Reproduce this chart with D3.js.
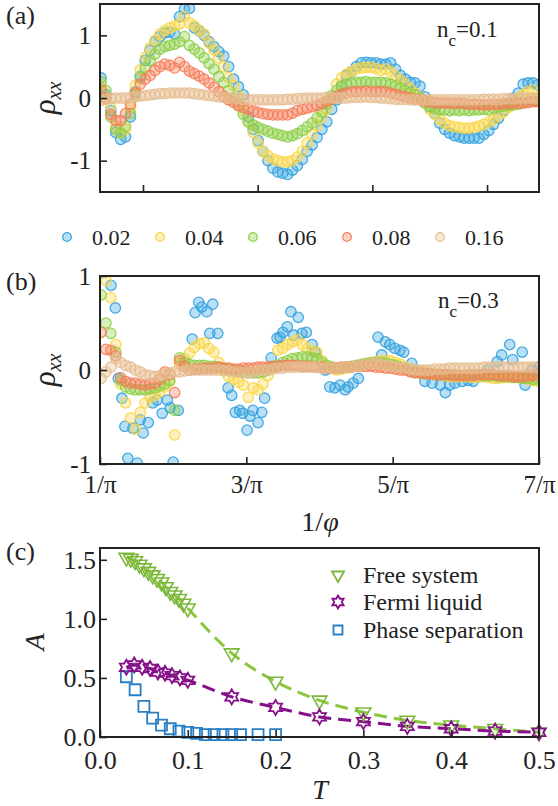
<!DOCTYPE html>
<html>
<head>
<meta charset="utf-8">
<script src="https://cdn.jsdelivr.net/npm/d3@7"></script>
</head>
<body style="margin:0;background:#fff">
<div id="chart"></div>
<script>
// ---- data ----
const fillings = ['0.02', '0.04', '0.06', '0.08', '0.16']
const colors = ['#35a2e0', '#f9d648', '#8dcf48', '#f57d59', '#e6bd90']

// panel (a): n_c = 0.1, samples on an even 1/phi grid
const blueA = [0.32,0.05,-0.2,-0.55,-0.66,-0.62,-0.3,0.1,0.35,0.6,
  0.76,0.9,0.98,1.04,1.05,1.02,1.3,1.42,1.43,1.12,
  1.07,1.0,0.9,0.82,0.74,0.67,0.5,0.3,0.18,0.05,
  -0.3,-0.5,-0.68,-0.85,-1.0,-1.12,-1.18,-1.2,-1.22,-1.15,
  -1.08,-0.98,-0.85,-0.75,-0.63,-0.5,-0.38,-0.18,-0.03,0.2,
  0.36,0.42,0.5,0.56,0.57,0.56,0.56,0.54,0.54,0.56,
  0.46,0.36,0.3,0.25,0.24,0.19,0.02,-0.14,-0.25,-0.4,
  -0.5,-0.56,-0.6,-0.62,-0.64,-0.64,-0.64,-0.64,-0.58,-0.52,
  -0.42,-0.32,-0.2,-0.1,0.0,0.08,0.22,0.24,0.24,0.21]
const yellowA = [0.2,0.0,-0.15,-0.45,-0.55,-0.5,-0.15,0.2,0.45,0.65,
  0.8,0.92,1.02,1.08,1.12,1.15,1.18,1.3,1.2,1.15,
  1.08,1.02,0.88,0.77,0.64,0.5,0.33,0.2,0.05,-0.2,
  -0.38,-0.55,-0.72,-0.85,-0.92,-0.97,-1.0,-1.02,-1.02,-1.0,
  -0.94,-0.85,-0.72,-0.58,-0.44,-0.3,-0.18,0.0,0.22,0.32,
  0.38,0.42,0.46,0.48,0.49,0.49,0.47,0.44,0.46,0.42,
  0.35,0.28,0.22,0.15,0.08,0.0,-0.08,-0.18,-0.26,-0.34,
  -0.4,-0.44,-0.46,-0.47,-0.48,-0.48,-0.47,-0.45,-0.42,-0.38,
  -0.34,-0.28,-0.22,-0.15,-0.07,0.0,0.06,0.1,0.13,0.02]
const greenA = [0.26,0.12,-0.3,-0.5,-0.56,-0.45,-0.25,0.05,0.32,0.48,
  0.6,0.7,0.78,0.82,0.84,0.86,0.9,0.98,0.84,0.78,
  0.72,0.64,0.55,0.46,0.34,0.25,0.12,0.0,-0.12,-0.26,
  -0.38,-0.43,-0.47,-0.5,-0.53,-0.56,-0.58,-0.6,-0.62,-0.6,
  -0.57,-0.52,-0.46,-0.4,-0.32,-0.22,-0.1,0.04,0.12,0.18,
  0.22,0.24,0.25,0.25,0.26,0.25,0.25,0.25,0.24,0.22,
  0.19,0.16,0.12,0.08,0.05,0.0,-0.08,-0.14,-0.17,-0.19,
  -0.19,-0.2,-0.19,-0.2,-0.19,-0.2,-0.19,-0.19,-0.18,-0.19,
  -0.16,-0.14,-0.13,-0.12,-0.11,-0.1,-0.08,-0.07,-0.05,-0.03]
const redA = [0.13,0.0,-0.26,-0.36,-0.36,-0.25,-0.1,0.08,0.22,0.3,
  0.36,0.44,0.5,0.54,0.52,0.48,0.57,0.5,0.43,0.39,
  0.35,0.3,0.24,0.17,0.1,0.03,-0.03,-0.07,-0.12,-0.15,
  -0.18,-0.21,-0.23,-0.25,-0.26,-0.27,-0.27,-0.27,-0.27,-0.24,
  -0.2,-0.18,-0.16,-0.14,-0.12,-0.09,-0.05,-0.02,0.03,0.06,
  0.08,0.1,0.1,0.1,0.11,0.1,0.1,0.1,0.1,0.08,
  0.06,0.04,0.02,0.0,-0.02,-0.03,-0.05,-0.06,-0.07,-0.08,
  -0.08,-0.08,-0.09,-0.08,-0.09,-0.1,-0.1,-0.1,-0.11,-0.11,
  -0.1,-0.1,-0.09,-0.09,-0.08,-0.08,-0.08,-0.07,-0.06,-0.06]
const tanA = [-0.04,-0.02,-0.01,0.0,0.0,0.0,0.01,0.02,0.03,0.04,
  0.05,0.06,0.07,0.07,0.08,0.08,0.08,0.08,0.08,0.07,
  0.06,0.05,0.04,0.03,0.02,0.01,0.0,0.0,-0.01,-0.02,
  -0.02,-0.03,-0.03,-0.03,-0.03,-0.03,-0.03,-0.03,-0.02,-0.02,
  -0.01,-0.01,0.0,0.0,0.0,0.0,0.01,0.0,0.0,0.0,
  0.0,0.01,0.01,0.01,0.02,0.01,0.01,0.0,0.0,-0.01,
  -0.02,-0.02,-0.02,-0.03,-0.03,-0.03,-0.03,-0.03,-0.03,-0.03,
  -0.03,-0.03,-0.03,-0.03,-0.03,-0.03,-0.03,-0.03,-0.02,-0.02,
  -0.02,-0.02,-0.01,-0.01,-0.01,0.0,0.0,0.0,0.0,0.0]

// panel (b): n_c = 0.3 (x in units of 1/pi)
const blueBk = [1.15,1.21,1.25,1.30,1.34,1.38,1.45,1.51,1.55,1.59,1.66,1.72,1.78,1.85,1.92,1.96,2.00,2.07,
  2.26,2.30,2.35,2.39,2.46,2.50,2.54,2.61,2.75,2.80,2.85,2.91,2.95,3.01,3.05,3.09,3.16,3.21,3.25,
  3.34,3.42,3.46,3.50,3.56,3.61,3.65,3.71,3.76,3.82,3.90,3.94,4.08,4.14,4.21,4.28,4.35,4.39,4.46,4.53,
  4.80,4.85,4.90,4.96,5.03,5.10,5.15,5.26,5.44,5.54,5.65,5.72,5.78,5.85,5.95,6.03,6.10,6.19,6.30,6.43,6.49,6.60,6.64,6.77,6.81,6.90,6.99]
const blueB = [0.9,0.66,-0.09,-0.3,-0.6,-0.94,-0.62,-0.99,-0.53,-0.67,-0.56,-0.35,-0.32,-0.46,-0.32,-0.4,-0.98,-0.43,
  0.33,0.61,0.72,0.67,0.62,0.39,0.7,0.39,-0.19,-0.27,-0.45,-0.43,-0.46,-0.64,-0.49,-0.43,-0.56,-0.45,-0.3,
  0.13,0.34,0.35,0.4,0.46,0.62,0.37,0.56,0.39,0.4,0.27,0.19,0.0,-0.18,-0.19,-0.16,-0.21,-0.18,-0.14,-0.09,
  0.35,0.16,0.3,0.27,0.23,0.21,0.19,0.07,-0.12,-0.14,-0.16,-0.24,-0.16,-0.14,-0.12,-0.11,-0.12,-0.07,0.0,0.09,0.16,0.27,0.11,0.19,-0.16,0.0,0.03]
const yellowB = [1.1,0.95,0.77,0.27,-0.15,-0.35,-0.51,-0.63,-0.45,-0.35,
  -0.29,-0.27,-0.23,-0.18,-0.12,-0.69,0.07,0.12,0.18,0.24,
  0.28,0.29,0.23,0.19,0.08,0.0,-0.07,-0.1,-0.13,-0.16,
  -0.29,-0.19,-0.21,-0.15,-0.06,0.03,0.21,0.23,0.27,0.3,
  0.32,0.27,0.23,0.2,0.19,0.1,0.05,0.02,0.0,0.01,
  0.02,0.03,0.04,0.05,0.06,0.08,0.09,0.1,0.1,0.1,
  0.08,0.06,0.03,0.01,0.0,-0.01,-0.02,-0.03,-0.04,-0.05,
  -0.06,-0.07,-0.07,-0.07,-0.07,-0.07,-0.08,-0.07,-0.07,-0.08,
  -0.09,-0.09,-0.08,-0.08,-0.07,-0.08,-0.09,-0.1,-0.11,-0.12]
const greenB = [0.8,0.5,0.39,0.19,-0.11,-0.18,-0.2,-0.21,-0.21,-0.21,
  -0.2,-0.19,-0.17,-0.15,-0.11,-0.43,0.13,0.08,0.06,0.05,
  0.05,0.05,0.04,0.04,0.03,0.02,0.01,0.0,-0.01,-0.02,
  -0.03,-0.03,-0.03,-0.02,0.0,0.03,0.05,0.08,0.1,0.12,
  0.13,0.14,0.14,0.13,0.12,0.08,0.05,0.03,0.02,0.02,
  0.03,0.04,0.05,0.06,0.07,0.08,0.08,0.08,0.07,0.06,
  0.05,0.03,0.01,-0.01,-0.02,-0.03,-0.04,-0.04,-0.05,-0.05,
  -0.05,-0.05,-0.05,-0.06,-0.06,-0.05,-0.05,-0.05,-0.06,-0.06,
  -0.06,-0.07,-0.07,-0.07,-0.08,-0.08,-0.09,-0.09,-0.1,-0.1]
const redB = [0.4,0.22,0.21,0.15,-0.08,-0.12,-0.14,-0.14,-0.15,-0.16,
  -0.15,-0.14,-0.1,-0.02,-0.05,-0.24,0.1,0.04,0.0,0.01,
  0.01,0.02,0.02,0.02,0.03,0.02,0.02,0.01,0.01,0.02,
  0.02,0.02,0.03,0.03,0.03,0.04,0.04,0.05,0.05,0.05,
  0.05,0.04,0.04,0.04,0.03,0.03,0.02,0.02,0.02,0.03,
  0.03,0.03,0.04,0.04,0.04,0.04,0.03,0.03,0.02,0.02,
  0.01,0.0,0.0,-0.02,-0.03,-0.03,-0.04,-0.04,-0.05,-0.05,
  -0.05,-0.05,-0.06,-0.06,-0.06,-0.06,-0.06,-0.05,-0.05,-0.05,
  -0.05,-0.06,-0.06,-0.06,-0.07,-0.07,-0.07,-0.06,-0.06,-0.05]
const tanB = [-0.09,-0.02,0.03,0.12,0.08,0.05,0.03,0.0,-0.02,-0.05,
  -0.06,-0.07,-0.06,-0.04,-0.03,-0.02,-0.02,-0.01,0.0,0.0,
  0.0,0.0,0.0,0.0,0.0,-0.01,-0.01,-0.02,-0.02,-0.03,
  -0.03,-0.02,-0.01,0.0,0.0,0.01,0.02,0.02,0.03,0.03,
  0.03,0.03,0.03,0.03,0.03,0.02,0.02,0.02,0.02,0.02,
  0.03,0.03,0.04,0.05,0.06,0.07,0.07,0.06,0.05,0.04,
  0.03,0.03,0.02,0.01,0.0,0.0,0.0,0.0,0.01,0.01,
  0.01,0.02,0.02,0.02,0.02,0.02,0.02,0.02,0.03,0.03,
  0.03,0.03,0.03,0.03,0.03,0.03,0.03,0.03,0.03,0.03]

// panel (c): amplitude A vs temperature T
const freeT = [0.03,0.035,0.04,0.045,0.05,0.055,0.06,0.065,0.07,0.075,0.08,0.085,0.09,0.095,0.1,0.15,0.2,0.25,0.3,0.35,0.4,0.45,0.5]
const freeA = [1.52,1.51,1.49,1.46,1.43,1.40,1.37,1.34,1.31,1.27,1.23,1.20,1.17,1.13,1.09,0.71,0.47,0.31,0.21,0.14,0.1,0.07,0.04]
const fermiT = [0.03,0.039,0.048,0.057,0.066,0.074,0.082,0.091,0.1,0.15,0.2,0.25,0.3,0.35,0.4,0.45,0.5]
const fermiA = [0.59,0.61,0.59,0.58,0.55,0.54,0.52,0.5,0.48,0.34,0.25,0.17,0.13,0.09,0.07,0.05,0.04]
const phaseT = [0.03,0.04,0.05,0.06,0.07,0.08,0.09,0.1,0.11,0.12,0.13,0.14,0.15,0.16,0.18,0.2]
const phaseA = [0.51,0.4,0.26,0.16,0.1,0.07,0.05,0.04,0.03,0.02,0.02,0.02,0.02,0.02,0.02,0.02]
const legendC = ['Free system', 'Fermi liquid', 'Phase separation']

// even sampling grids of 1/phi for (a) and (b)
const gridA = d3.range(90).map(i => 0.634 + i * 0.0428)
const gridB = d3.range(90).map(i => 1.014 + i * 0.0671)

// ---- chart ----
const FONT = 'Liberation Serif'
const ink = '#222'

const svg = d3.select('#chart').append('svg')
  .attr('width', 558)
  .attr('height', 806)
  .attr('font-family', FONT)
  .style('font-family', `"${FONT}"`)

// every text goes through here so the serif face is set on the element itself
const addText = (parent, size) => parent.append('text')
  .attr('font-family', FONT).style('font-family', `"${FONT}"`)
  .attr('font-size', size).attr('fill', ink)

const L = 100, R = 539
const xA = d3.scaleLinear().domain([0.625, 4.453]).range([L, R])
const yA = d3.scaleLinear().domain([-1.5, 1.5]).range([192, 4])
const xB = d3.scaleLinear().domain([1, 7]).range([L, R])
const yB = d3.scaleLinear().domain([-1, 1]).range([464, 276])
const xC = d3.scaleLinear().domain([0, 0.5]).range([L, R])
const yC = d3.scaleLinear().domain([0, 1.6]).range([737, 548])

function styleAxis(g, size) {
  g.attr('font-family', FONT).style('font-family', `"${FONT}"`)
  g.select('.domain').remove()
  g.selectAll('.tick line').attr('stroke', ink).attr('stroke-width', 1.6)
  g.selectAll('.tick text').attr('font-size', size).attr('fill', ink)
    .attr('font-family', FONT).style('font-family', `"${FONT}"`)
}

function frame(x, y) {
  svg.append('rect')
    .attr('x', x.range()[0]).attr('y', y.range()[1])
    .attr('width', x.range()[1] - x.range()[0])
    .attr('height', y.range()[0] - y.range()[1])
    .attr('fill', 'none').attr('stroke', ink).attr('stroke-width', 2)
}

function clip(id, x, y) {
  svg.append('clipPath').attr('id', id).append('rect')
    .attr('x', x.range()[0]).attr('y', y.range()[1])
    .attr('width', x.range()[1] - x.range()[0])
    .attr('height', y.range()[0] - y.range()[1])
}

function dots(g, xs, ys, x, y, color) {
  g.append('g').selectAll('circle')
    .data(ys.map((v, i) => ({ x: xs[i], y: v })))
    .enter()
    .append('circle')
    .attr('cx', d => x(d.x))
    .attr('cy', d => y(d.y))
    .attr('r', 5.2)
    .attr('fill', color).attr('fill-opacity', 0.35)
    .attr('stroke', color).attr('stroke-opacity', 0.9).attr('stroke-width', 1.3)
}

const minus = d => d < 0 ? '-' + Math.abs(d) : String(d)

// ---------- panel (a) ----------
clip('clipA', xA, yA)
const gA = svg.append('g').attr('clip-path', 'url(#clipA)')
const seriesA = [blueA, yellowA, greenA, redA, tanA]
seriesA.forEach((s, k) => dots(gA, gridA, s, xA, yA, colors[k]))

svg.append('g').attr('transform', 'translate(0,192)')
  .call(d3.axisBottom(xA).tickValues([1, 2, 3, 4]).tickSize(-7).tickFormat(''))
  .call(g => styleAxis(g, 25))
svg.append('g').attr('transform', `translate(${L},0)`)
  .call(d3.axisLeft(yA).tickValues([-1, 0, 1]).tickSize(-7).tickPadding(9).tickFormat(minus))
  .call(g => styleAxis(g, 25))
frame(xA, yA)

// ---------- legend (a)/(b) ----------
const legX = [67, 160, 253, 347, 440]
fillings.forEach((f, k) => {
  svg.append('circle').attr('cx', legX[k]).attr('cy', 237).attr('r', 4.3)
    .attr('fill', colors[k]).attr('fill-opacity', 0.35)
    .attr('stroke', colors[k]).attr('stroke-width', 1.3)
  addText(svg, 22).attr('x', legX[k] + 25).attr('y', 245).text(f)
})

// ---------- panel (b) ----------
clip('clipB', xB, yB)
const gB = svg.append('g').attr('clip-path', 'url(#clipB)')
dots(gB, blueBk, blueB, xB, yB, colors[0])
const seriesB = [yellowB, greenB, redB, tanB]
seriesB.forEach((s, k) => dots(gB, gridB, s, xB, yB, colors[k + 1]))

svg.append('g').attr('transform', 'translate(0,464)')
  .call(d3.axisBottom(xB).tickValues([1, 3, 5, 7]).tickSize(-7).tickPadding(11).tickFormat(d => d + '/π'))
  .call(g => styleAxis(g, 25))
svg.append('g').attr('transform', `translate(${L},0)`)
  .call(d3.axisLeft(yB).tickValues([-1, 0, 1]).tickSize(-7).tickPadding(9).tickFormat(minus))
  .call(g => styleAxis(g, 25))
frame(xB, yB)

// ---------- panel (c) ----------
const triDown = r => `M0,${r}L${-r * 0.866},${-r / 2}L${r * 0.866},${-r / 2}Z`
const hexStar = r => {
  const pts = d3.range(12).map(k => {
    const a = -Math.PI / 2 + k * Math.PI / 6
    const rr = k % 2 ? r / Math.sqrt(3) : r
    return [rr * Math.cos(a), rr * Math.sin(a)]
  })
  return 'M' + pts.join('L') + 'Z'
}
const sq = s => `M${-s / 2},${-s / 2}h${s}v${s}h${-s}Z`

const cGreen = '#7bb83a', cPurple = '#86108a', cBlue = '#2a7fc4'
const line = d3.line().x(d => xC(d[0])).y(d => yC(d[1])).curve(d3.curveMonotoneX)

svg.append('path')
  .attr('d', line(freeT.map((t, i) => [t, freeA[i]])))
  .attr('fill', 'none').attr('stroke', '#8cc63f').attr('stroke-width', 3)
  .attr('stroke-dasharray', '13,7')
svg.append('path')
  .attr('d', line(fermiT.map((t, i) => [t, fermiA[i]])))
  .attr('fill', 'none').attr('stroke', cPurple).attr('stroke-width', 3)
  .attr('stroke-dasharray', '13,7')

function markers(ts, as, shape, color, w) {
  svg.append('g').selectAll('path')
    .data(ts.map((t, i) => [t, as[i]]))
    .enter()
    .append('path')
    .attr('transform', d => `translate(${xC(d[0])},${yC(d[1])})`)
    .attr('d', shape)
    .attr('fill', 'none').attr('stroke', color).attr('stroke-width', w)
}
markers(phaseT, phaseA, sq(11), cBlue, 1.8)
markers(freeT, freeA, triDown(8.5), cGreen, 1.6)
markers(fermiT, fermiA, hexStar(7.5), cPurple, 1.8)

svg.append('g').attr('transform', 'translate(0,737)')
  .call(d3.axisBottom(xC).tickValues([0, 0.1, 0.2, 0.3, 0.4, 0.5]).tickSize(-7).tickPadding(14).tickFormat(d3.format('.1f')))
  .call(g => styleAxis(g, 26))
svg.append('g').attr('transform', `translate(${L},0)`)
  .call(d3.axisLeft(yC).tickValues([0, 0.5, 1, 1.5]).tickSize(-7).tickPadding(4).tickFormat(d3.format('.1f')))
  .call(g => styleAxis(g, 26))
frame(xC, yC)

// legend (c)
const legC = [
  { y: 575, d: triDown(7), c: cGreen },
  { y: 602, d: hexStar(6.5), c: cPurple },
  { y: 630, d: sq(9), c: cBlue }
]
legC.forEach((m, k) => {
  svg.append('path').attr('transform', `translate(338,${m.y})`).attr('d', m.d)
    .attr('fill', 'none').attr('stroke', m.c).attr('stroke-width', 1.8)
  addText(svg, 24).attr('x', 363).attr('y', m.y + 8).text(legendC[k])
})

// ---------- labels ----------
const panelLabel = (t, y) => addText(svg, 26).attr('x', 6).attr('y', y).text(t)
panelLabel('(a)', 24)
panelLabel('(b)', 290)
panelLabel('(c)', 560)

function rhoLabel(cx, cy) {
  const t = addText(svg, 31)
    .attr('transform', `translate(${cx},${cy}) rotate(-90)`)
    .attr('text-anchor', 'middle').attr('font-style', 'italic')
  t.append('tspan').text('ρ')
  t.append('tspan').attr('font-size', 20).attr('dy', 6).text('xx')
}
rhoLabel(55, 98)
rhoLabel(55, 370)

function ncLabel(x, y, v) {
  const t = addText(svg, 23).attr('x', x).attr('y', y)
  t.append('tspan').text('n')
  t.append('tspan').attr('font-size', 17).attr('dy', 9).text('c')
  t.append('tspan').attr('dy', -9).text('=' + v)
}
ncLabel(437, 37, '0.1')
ncLabel(438, 308, '0.3')

const phiLabel = addText(svg, 28).attr('x', 320).attr('y', 531).attr('text-anchor', 'middle')
phiLabel.append('tspan').text('1/')
phiLabel.append('tspan').attr('font-style', 'italic').text('φ')

addText(svg, 28).attr('x', 320).attr('y', 799).attr('text-anchor', 'middle')
  .attr('font-style', 'italic').text('T')
addText(svg, 28).attr('transform', 'translate(44,642) rotate(-90)').attr('text-anchor', 'middle')
  .attr('font-style', 'italic').text('A')
</script>
</body>
</html>
